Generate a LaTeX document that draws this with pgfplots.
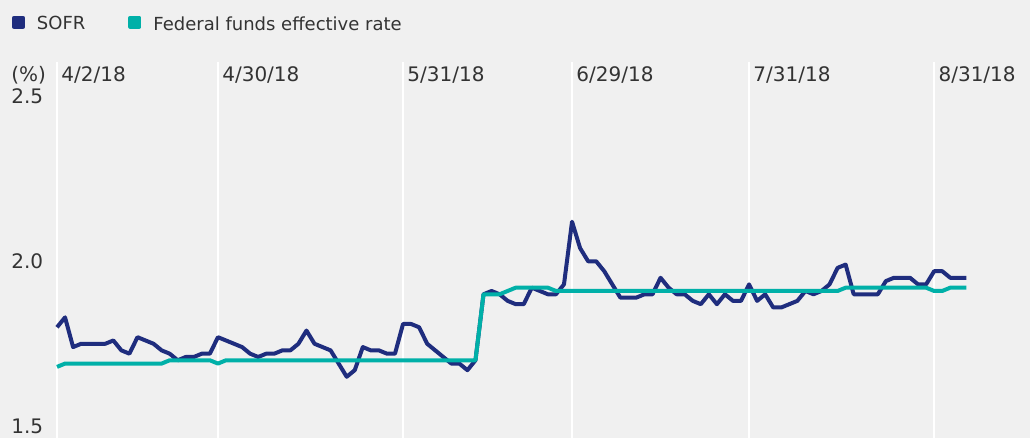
\documentclass[border=0pt]{standalone}
\usepackage{fontspec}
\setmainfont{DejaVu Sans}
\usepackage{pgfplots}
\pgfplotsset{compat=1.18}
\definecolor{bg}{HTML}{F0F0F0}
\definecolor{sofrc}{HTML}{1F2D7E}
\definecolor{ffec}{HTML}{00B0A8}
\definecolor{txt}{HTML}{333333}

\pgfplotstableread{
i sofr
0 1.80
1 1.83
2 1.74
3 1.75
4 1.75
5 1.75
6 1.75
7 1.76
8 1.73
9 1.72
10 1.77
11 1.76
12 1.75
13 1.73
14 1.72
15 1.70
16 1.71
17 1.71
18 1.72
19 1.72
20 1.77
21 1.76
22 1.75
23 1.74
24 1.72
25 1.71
26 1.72
27 1.72
28 1.73
29 1.73
30 1.75
31 1.79
32 1.75
33 1.74
34 1.73
35 1.69
36 1.65
37 1.67
38 1.74
39 1.73
40 1.73
41 1.72
42 1.72
43 1.81
44 1.81
45 1.80
46 1.75
47 1.73
48 1.71
49 1.69
50 1.69
51 1.67
52 1.70
53 1.90
54 1.91
55 1.90
56 1.88
57 1.87
58 1.87
59 1.92
60 1.91
61 1.90
62 1.90
63 1.93
64 2.12
65 2.04
66 2.00
67 2.00
68 1.97
69 1.93
70 1.89
71 1.89
72 1.89
73 1.90
74 1.90
75 1.95
76 1.92
77 1.90
78 1.90
79 1.88
80 1.87
81 1.90
82 1.87
83 1.90
84 1.88
85 1.88
86 1.93
87 1.88
88 1.90
89 1.86
90 1.86
91 1.87
92 1.88
93 1.91
94 1.90
95 1.91
96 1.93
97 1.98
98 1.99
99 1.90
100 1.90
101 1.90
102 1.90
103 1.94
104 1.95
105 1.95
106 1.95
107 1.93
108 1.93
109 1.97
110 1.97
111 1.95
112 1.95
113 1.95
}\sofrdata

\pgfplotstableread{
i ffe
0 1.68
1 1.69
13 1.69
14 1.70
19 1.70
20 1.69
21 1.70
52 1.70
53 1.90
55 1.90
56 1.91
57 1.92
61 1.92
62 1.91
97 1.91
98 1.92
108 1.92
109 1.91
110 1.91
111 1.92
113 1.92
}\ffedata

\begin{document}
\begin{tikzpicture}[x=1pt,y=1pt]
\fill[bg] (0,0) rectangle (515,219);
\begin{axis}[
  at={(28.5pt,0pt)}, anchor=south west,
  scale only axis, width=458.7pt, height=188pt,
  xmin=0, xmax=114, ymin=1.4645, ymax=2.6039,
  axis line style={draw=none},
  major tick length=0pt,
  xtick={0,20,43,64,86,109},
  xticklabels={4/2/18,4/30/18,5/31/18,6/29/18,7/31/18,8/31/18},
  xticklabel pos=upper,
  xticklabel style={anchor=base west, xshift=2pt, yshift=-9.85pt, inner sep=0pt},
  ytick={1.5,2,2.5},
  yticklabels={1.5,2.0,2.5},
  yticklabel style={anchor=west, xshift=-23pt, inner sep=0pt},
  xmajorgrids, grid style={white, line width=1pt},
  tick label style={font=\fontsize{10}{12}\selectfont, text=txt},
  clip=false,
  legend columns=2,
  legend image code/.code={\fill[#1] (0pt,-1pt) rectangle (4.5pt,3.5pt);},
  legend style={at={(axis description cs:-0.04905,1.1000)}, anchor=west,
    draw=none, fill=none, inner sep=0pt, outer sep=0pt,
    nodes={inner sep=0pt, text=txt, font=\fontsize{9}{11}\selectfont},
    column sep=6pt,
    /tikz/every even column/.append style={column sep=21.5pt}},
]
\addplot[sofrc, line width=2pt, line join=round] table[x=i, y=sofr] {\sofrdata};
\addlegendentry{SOFR}
\addplot[ffec, line width=2pt, line join=round] table[x=i, y=ffe] {\ffedata};
\addlegendentry{Federal funds effective rate}
\node[anchor=base west, inner sep=0pt, text=txt, font=\fontsize{10}{12}\selectfont]
  at (axis description cs:-0.0501,0.9476) {(\%)};
\end{axis}
\pgfresetboundingbox
\useasboundingbox (0,0) rectangle (515,219);
\end{tikzpicture}
\end{document}
